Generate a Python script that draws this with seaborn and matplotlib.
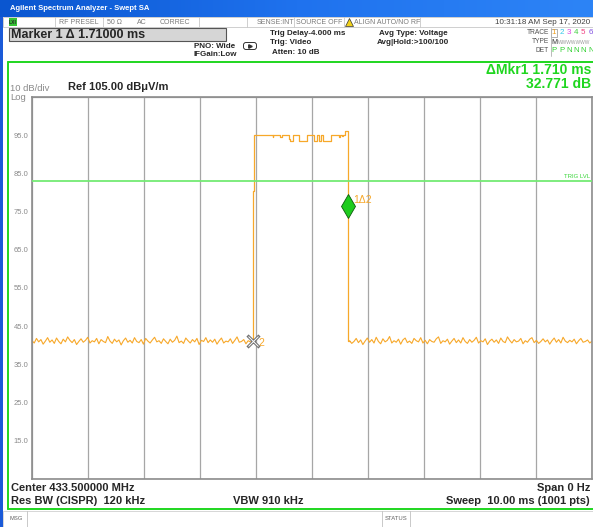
import matplotlib
matplotlib.use('Agg')
import matplotlib.pyplot as plt
from matplotlib.patches import Rectangle, FancyBboxPatch
from matplotlib.colors import LinearSegmentedColormap
import numpy as np
import pandas as pd
import seaborn as sns

# ---- trace data (ms, dBuV/m) ----
pre_noise = [41.2, 40.6, 41.8, 40.9, 41.5, 40.3, 41.1, 42.0, 40.8, 41.4, 40.5, 41.9, 41.0, 40.4,
             41.6, 40.9, 42.2, 41.3, 40.7, 41.5, 40.2, 41.0, 41.7, 40.8, 41.3, 42.1, 40.6, 41.2,
             40.9, 41.8, 40.4, 41.5, 41.0, 40.7, 42.3, 41.1, 40.5, 41.6, 40.9, 41.4, 40.1, 41.2,
             41.9, 40.8, 41.3, 40.6, 42.0, 41.0, 40.7, 41.5, 40.3, 41.8, 41.1, 40.6, 41.4, 42.1,
             40.9, 41.2, 40.5, 41.7, 41.0, 40.4, 41.6, 40.8, 41.3, 42.4, 40.7, 41.1, 40.5, 41.9,
             41.2, 40.6, 41.5, 40.9, 41.8, 40.2, 41.3, 41.0, 42.0, 40.7, 41.4, 40.8, 41.6, 40.3,
             41.2, 41.9, 40.6, 41.1, 40.9, 41.7, 40.5, 41.3, 42.2, 40.8, 41.0, 41.5, 40.4, 41.2,
             40.9, 41.0]
post_noise = [41.2, 40.5, 41.0, 41.8, 40.7, 41.4, 40.2, 41.1, 41.9, 40.8, 41.5, 40.6, 42.1, 41.0,
              40.4, 41.7, 40.9, 41.3, 42.3, 40.6, 41.2, 40.8, 41.6, 40.3, 41.4, 41.9, 40.7, 41.1,
              40.5, 41.8, 41.2, 40.9, 42.0, 40.6, 41.3, 40.4, 41.5, 41.0, 40.8, 41.7, 42.2, 40.5,
              41.2, 40.9, 41.6, 40.3, 41.1, 41.8, 40.7, 41.4, 40.6, 42.0, 41.0, 40.5, 41.5, 40.8,
              41.3, 42.1, 40.6, 41.2, 40.9, 41.7, 40.2, 41.1, 41.6, 40.8, 41.4, 40.5, 41.9, 41.0,
              40.7, 42.2, 41.3, 40.6, 41.5, 40.9, 41.1, 41.8, 40.4, 41.2, 40.8, 41.6, 42.0, 40.7,
              41.3, 40.5, 41.0, 41.7, 40.9, 41.4, 40.3, 41.2, 41.9, 40.8, 41.5, 40.6, 42.1, 41.1,
              40.7, 41.3, 40.9, 41.6, 40.4, 41.2, 41.8, 40.8, 41.0, 41.4, 40.6, 41.1]
pre_start, pre_stop = 0.0, 3.94
post_start, post_stop = 5.67, 10.0

# burst (step levels, held until next time)
burst_t = [3.94, 3.95, 3.97, 4.30, 4.31, 4.43, 4.46, 4.59, 4.61, 4.66, 4.77, 4.91, 5.04,
           5.09, 5.12, 5.16, 5.20, 5.34, 5.48, 5.50, 5.53, 5.55, 5.59, 5.65, 5.67]
burst_v = [41.0, 80.5, 95.1, 94.6, 95.1, 94.5, 95.1, 94.0, 93.4, 95.1, 93.4, 95.1, 93.4,
           95.1, 93.4, 95.1, 93.4, 95.1, 94.6, 95.1, 94.7, 95.1, 96.0, 41.2, 41.2]

mkr2_t, mkr2_v = 3.95, 41.0
mkr1_t, mkr1_v = 5.65, 76.5
trig_level = 82.9
ref_level = 105.0
y_ticks = [95, 85, 75, 65, 55, 45, 35, 25, 15]

W, H = 593, 527
TRACE = '#f7a82a'
GREEN = '#1fd61f'

sns.set_style('white')
plt.rcParams['font.family'] = ['Liberation Sans', 'DejaVu Sans']

fig = plt.figure(figsize=(W / 100, H / 100), dpi=100)

# background axes in pixel coordinates for the instrument chrome
bg = fig.add_axes([0, 0, 1, 1])
bg.set_xlim(0, W)
bg.set_ylim(H, 0)
bg.axis('off')

# title bar
grad = np.linspace(0, 1, 200).reshape(1, -1)
cm = LinearSegmentedColormap.from_list('bar', ['#0a56d0', '#1f72ee', '#2d84f6'])
bg.imshow(grad, extent=(0, W, 17, 0), cmap=cm, aspect='auto')
bg.text(10, 8.5, 'Agilent Spectrum Analyzer - Swept SA', color='white', fontsize=5.5,
        fontweight='bold', va='center')

# left blue strip
bg.add_patch(Rectangle((0, 17), 2.5, H - 17, color='#1a5ad8', lw=0))

# status row
bg.add_patch(Rectangle((3, 17), W, 10, fc='white', ec='#c8c8c8', lw=0.6))
bg.add_patch(Rectangle((9, 18), 8, 8, fc='#35c435', ec='none'))
bg.text(13, 22.2, 'LXI', fontsize=3.6, fontweight='bold', ha='center', va='center')
for sx in [55, 103, 199, 247, 294, 344, 420]:
    bg.plot([sx, sx], [17, 27], color='#c8c8c8', lw=0.6)
st_col = '#7a7a7a'
for label, cx in [('RF PRESEL', 79), ('50 Ω', 114), ('AC', 142), ('CORREC', 175),
                  ('SENSE:INT', 275), ('SOURCE OFF', 319)]:
    bg.text(cx, 22.3, label, fontsize=5, color=st_col, ha='center', va='center')
bg.plot(349, 22, marker='^', ms=5.5, mfc='#f2d21b', mec='#333333', mew=0.5)
bg.text(354, 22.3, 'ALIGN AUTO/NO RF', fontsize=5, color=st_col, va='center')
bg.text(590, 22.3, '10:31:18 AM Sep 17, 2020', fontsize=5.8, color='#404040', ha='right',
        va='center')

# marker readout box
bg.add_patch(Rectangle((9, 28), 217, 12.5, fc='#d6d6d6', ec='#555555', lw=0.8))
bg.text(11, 34.5, 'Marker 1 Δ 1.71000 ms', fontsize=9, fontweight='bold', va='center')

# settings text
hdr = dict(fontsize=5.8, fontweight='bold', va='center')
bg.text(194, 46, 'PNO: Wide', **hdr)
bg.text(194, 54.5, 'IFGain:Low', **hdr)
bg.add_patch(FancyBboxPatch((244, 43), 12, 6, boxstyle='round,pad=0.5,rounding_size=2.5',
                            fc='white', ec='#333333', lw=0.7))
bg.plot(250, 46, marker='>', ms=2.5, color='#333333')
bg.text(270, 33.3, 'Trig Delay-4.000 ms', **hdr)
bg.text(270, 43, 'Trig: Video', **hdr)
bg.text(272, 52.7, 'Atten: 10 dB', **hdr)
bg.text(379, 33.3, 'Avg Type: Voltage', **hdr)
bg.text(377, 43, 'Avg|Hold:>100/100', **hdr)

# trace / type / det block
for label, yy in [('TRACE', 32.7), ('TYPE', 41.7), ('DET', 50.7)]:
    bg.text(549, yy, label, fontsize=4.8, color='#505050', ha='right', va='center')
bg.plot([550.5, 550.5], [28, 56], color='#b0b0b0', lw=0.6)
trace_x = [554, 561.7, 569, 576.3, 583.3, 590.7]
trace_cols = ['#f0a020', '#30c8e8', '#e040e0', '#40d040', '#f04080', '#8050e0']
for i, (tx, tc) in enumerate(zip(trace_x, trace_cols)):
    bg.text(tx, 33, str(i + 1), fontsize=5.8, color=tc, ha='center', va='center')
bg.add_patch(Rectangle((551.3, 28.8), 5.6, 8, fc='none', ec='#909090', lw=0.5))
bg.text(554, 42, 'M', fontsize=5.2, color='#303030', ha='center', va='center')
bg.text(557.5, 42.2, 'WWWWWWW', fontsize=3.5, color='#9a9a9a', va='center')
for tx, d in zip(trace_x, ['P', 'P', 'N', 'N', 'N', 'N']):
    bg.text(tx, 51, d, fontsize=5.6, color='#30d030', ha='center', va='center')

# green frame of the display area
bg.plot([7.5, W], [62, 62], color=GREEN, lw=1.4)
bg.plot([7.5, 7.5], [62, 509], color=GREEN, lw=1.4)
bg.plot([7.5, W], [509, 509], color=GREEN, lw=1.4)

# delta marker readout
bg.text(591, 70.5, 'ΔMkr1 1.710 ms', fontsize=10, fontweight='bold', color=GREEN,
        ha='right', va='center')
bg.text(591, 83.5, '32.771 dB', fontsize=10, fontweight='bold', color=GREEN,
        ha='right', va='center')

bg.text(10, 88.5, '10 dB/div', fontsize=6.8, color='#8a8a8a', va='center')
bg.text(10, 97, 'Log', fontsize=6.8, color='#8a8a8a', va='center')
bg.text(68, 87.5, 'Ref %.2f dBμV/m' % ref_level, fontsize=8, fontweight='bold', va='center')

# footer text
ft = dict(fontsize=8, fontweight='bold', va='center')
bg.text(11, 488.3, 'Center 433.500000 MHz', **ft)
bg.text(11, 500.7, 'Res BW (CISPR)  120 kHz', **ft)
bg.text(233, 500.7, 'VBW 910 kHz', **ft)
bg.text(590, 488.3, 'Span 0 Hz', ha='right', **ft)
bg.text(590, 500.7, 'Sweep  10.00 ms (1001 pts)', ha='right', **ft)

# message/status bar
bg.add_patch(Rectangle((3, 511), W, 16, fc='white', ec='#d0d0d0', lw=0.6))
for sx in [26.5, 382, 410]:
    bg.plot([sx, sx], [511, 527], color='#c0c0c0', lw=0.6)
bg.text(10, 519, 'MSG', fontsize=4.2, color='#606060', va='center')
bg.text(384.5, 519, 'STATUS', fontsize=4.2, color='#606060', va='center')

# ---- the measurement graticule ----
ax = fig.add_axes([32 / W, 1 - 479 / H, 560 / W, 382 / H])
ax.set_facecolor('white')

df_pre = pd.DataFrame({'t': np.linspace(pre_start, pre_stop, len(pre_noise)), 'v': pre_noise})
df_post = pd.DataFrame({'t': np.linspace(post_start, post_stop, len(post_noise)), 'v': post_noise})
df_burst = pd.DataFrame({'t': burst_t, 'v': burst_v})

sns.lineplot(data=df_pre, x='t', y='v', ax=ax, color=TRACE, lw=0.8, estimator=None)
sns.lineplot(data=df_burst, x='t', y='v', ax=ax, color=TRACE, lw=0.9, estimator=None,
             sort=False, drawstyle='steps-post')
sns.lineplot(data=df_post, x='t', y='v', ax=ax, color=TRACE, lw=0.8, estimator=None)

ax.axhline(trig_level, color='#74ea74', lw=1.3, zorder=3)
ax.text(9.97, trig_level + 0.7, 'TRIG LVL', fontsize=4.3, color='#3ad63a', ha='right',
        va='bottom')

# markers
ax.plot(mkr1_t, mkr1_v, marker='d', ms=12, mfc='#1ecc1e', mec='#0d5a0d', mew=0.6, zorder=5)
ax.text(mkr1_t + 0.08, mkr1_v + 1.6, '1Δ2', fontsize=7.5, color=TRACE, va='center')
ax.plot(mkr2_t, mkr2_v, marker='x', ms=8, mew=2.2, color='#707070', zorder=5)
ax.plot(mkr2_t, mkr2_v, marker='x', ms=7, mew=0.7, color='white', zorder=6)
ax.text(mkr2_t + 0.1, mkr2_v - 0.5, '2', fontsize=7.5, color=TRACE, va='center')

ax.set_xlim(0, 10)
ax.set_ylim(ref_level - 100, ref_level)
ax.set_xticks(range(0, 11))
ax.set_xticklabels([])
ax.set_yticks(y_ticks)
ax.set_yticklabels(['%.1f' % v for v in y_ticks], fontsize=5.5, color='#8a8a8a')
ax.set_yticks(range(5, 106, 10), minor=True)
ax.tick_params(axis='both', which='both', length=0, pad=2.5)
ax.grid(True, which='minor', axis='y', color='#a6a6a6', lw=0.9)
ax.grid(True, which='major', axis='x', color='#a6a6a6', lw=0.9)
ax.set_xlabel('')
ax.set_ylabel('')
for sp in ax.spines.values():
    sp.set_color('#8c8c8c')
    sp.set_linewidth(1.2)

fig.savefig('out.png', dpi=100)
